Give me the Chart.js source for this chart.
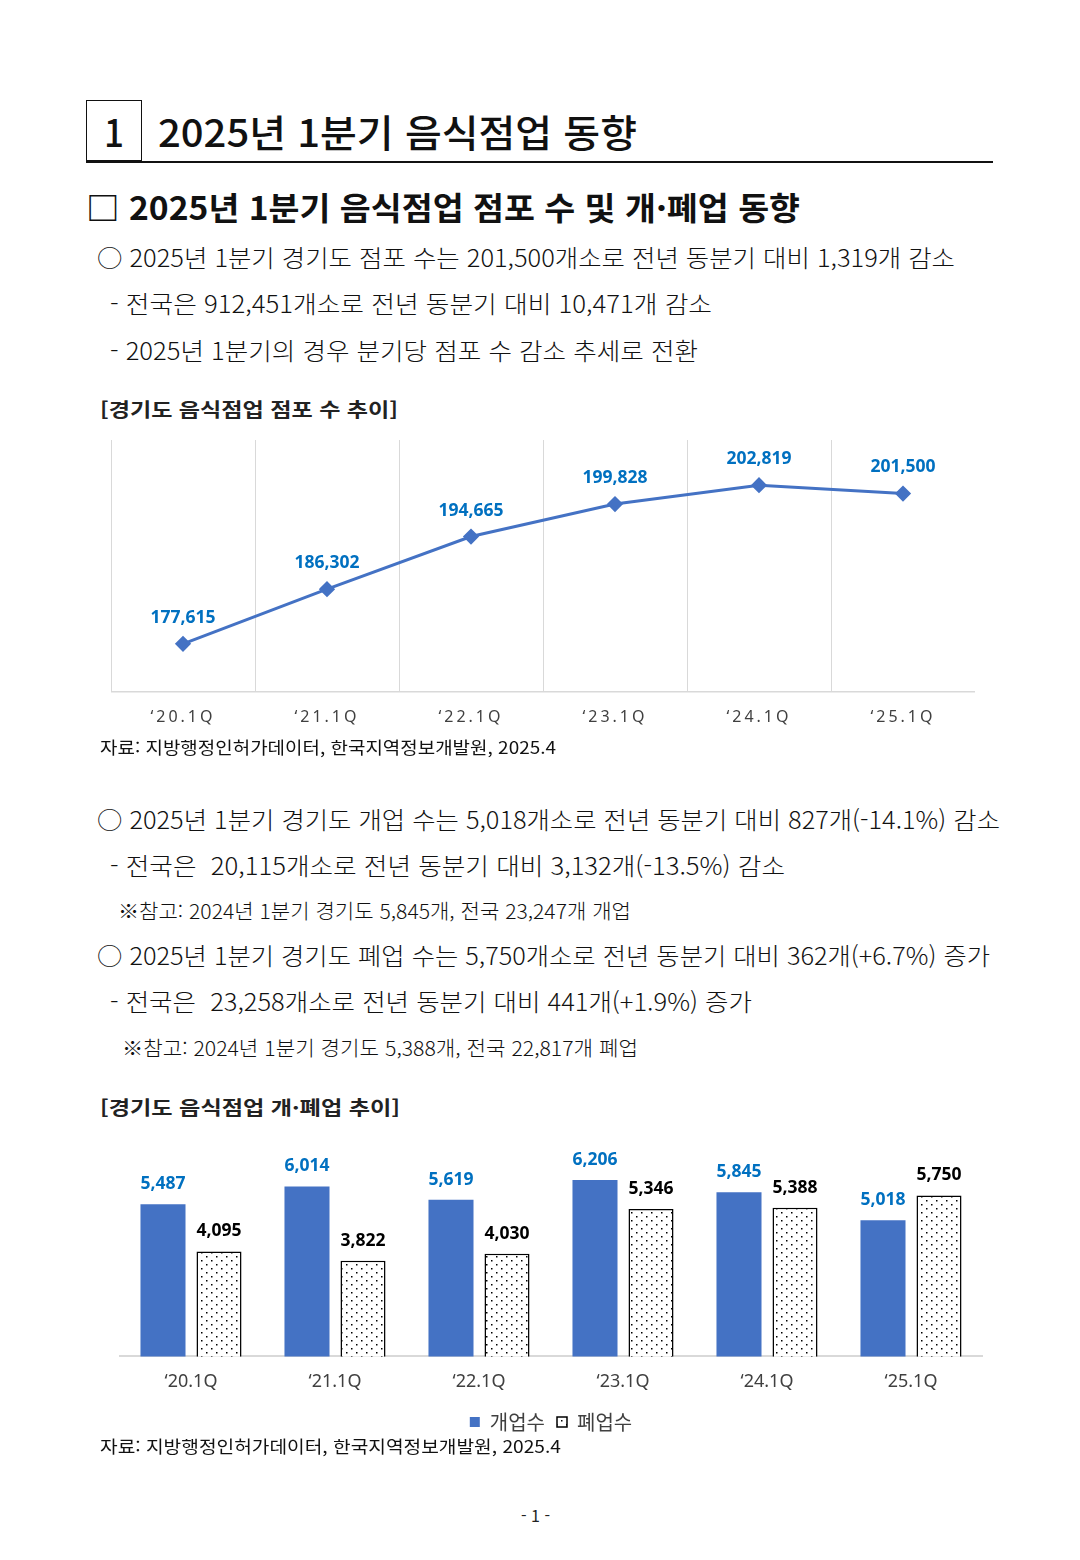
<!DOCTYPE html>
<html lang="ko">
<head>
<meta charset="utf-8">
<title>2025년 1분기 음식점업 동향</title>
<script src="https://cdn.jsdelivr.net/npm/chart.js@4.4.1/dist/chart.umd.min.js"></script>
<style>
  html, body { margin: 0; padding: 0; background: #fff; }
  body { width: 1080px; height: 1560px; position: relative; overflow: hidden;
         font-family: "Noto Sans CJK KR", "Noto Sans", sans-serif; color: #111; }
  .ln { position: absolute; white-space: nowrap; line-height: 1; transform-origin: 0 50%; }
  .body { font-weight: 300; }
  .numbox { position: absolute; left: 86px; top: 100px; width: 56px; height: 61px;
            border: 1.5px solid #111; box-sizing: border-box; }
  .rule { position: absolute; left: 86px; top: 161px; width: 907px; height: 2px; background: #111; }
  .chartbox { position: absolute; }
</style>
</head>
<body>
<div class="numbox"></div>
<div class="rule"></div>
<div class="ln" data-w="20" style="left:104px;top:112px;font-size:38px;font-weight:500">1</div>
<div class="ln" data-w="479" style="left:158px;top:112px;font-size:38px;font-weight:500">2025년 1분기 음식점업 동향</div>
<div class="ln" data-w="714" style="left:86px;top:190px;font-size:32px;font-weight:700">□ 2025년 1분기 음식점업 점포 수 및 개·폐업 동향</div>
<div class="ln body" data-w="858" style="left:97px;top:245px;font-size:24px">○ 2025년 1분기 경기도 점포 수는 201,500개소로 전년 동분기 대비 1,319개 감소</div>
<div class="ln body" data-w="602" style="left:110px;top:291px;font-size:24px">- 전국은 912,451개소로 전년 동분기 대비 10,471개 감소</div>
<div class="ln body" data-w="588" style="left:110px;top:338px;font-size:24px">- 2025년 1분기의 경우 분기당 점포 수 감소 추세로 전환</div>
<div class="ln" data-w="298" style="left:100px;top:399px;font-size:19px;font-weight:700;color:#222">[경기도 음식점업 점포 수 추이]</div>

<div class="chartbox" style="left:111px;top:440px;width:864px;height:303px"><canvas id="storeChart"></canvas></div>

<div class="ln" data-w="456" style="left:100px;top:738px;font-size:17px;color:#111">자료: 지방행정인허가데이터, 한국지역정보개발원, 2025.4</div>

<div class="ln body" data-w="903" style="left:97px;top:807px;font-size:24px">○ 2025년 1분기 경기도 개업 수는 5,018개소로 전년 동분기 대비 827개(-14.1%) 감소</div>
<div class="ln body" data-w="675" style="left:110px;top:853px;font-size:24px">- 전국은&nbsp; 20,115개소로 전년 동분기 대비 3,132개(-13.5%) 감소</div>
<div class="ln body" data-w="513" style="left:118px;top:901px;font-size:20px">※참고: 2024년 1분기 경기도 5,845개, 전국 23,247개 개업</div>
<div class="ln body" data-w="893" style="left:97px;top:943px;font-size:24px">○ 2025년 1분기 경기도 폐업 수는 5,750개소로 전년 동분기 대비 362개(+6.7%) 증가</div>
<div class="ln body" data-w="642" style="left:110px;top:989px;font-size:24px">- 전국은&nbsp; 23,258개소로 전년 동분기 대비 441개(+1.9%) 증가</div>
<div class="ln body" data-w="516" style="left:122px;top:1038px;font-size:20px">※참고: 2024년 1분기 경기도 5,388개, 전국 22,817개 폐업</div>
<div class="ln" data-w="300" style="left:100px;top:1097px;font-size:19px;font-weight:700;color:#222">[경기도 음식점업 개·폐업 추이]</div>

<div class="chartbox" style="left:119px;top:1130px;width:864px;height:320px"><canvas id="flowChart"></canvas></div>

<div class="ln" data-w="461" style="left:100px;top:1437px;font-size:17px;color:#111">자료: 지방행정인허가데이터, 한국지역정보개발원, 2025.4</div>
<div class="ln" style="left:521px;top:1507px;font-size:16px;color:#222">- 1 -</div>

<script>
// 분기 라벨
const quarters = ["‘20.1Q", "‘21.1Q", "‘22.1Q", "‘23.1Q", "‘24.1Q", "‘25.1Q"];

// 경기도 음식점업 점포 수
const storeCounts = [177615, 186302, 194665, 199828, 202819, 201500];

// 개업 / 폐업 수
const seriesNames = ["개업수", "폐업수"];
const openCounts = [5487, 6014, 5619, 6206, 5845, 5018];
const closeCounts = [4095, 3822, 4030, 5346, 5388, 5750];

// fit each text line to its width in the original page
document.querySelectorAll(".ln[data-w]").forEach(el => {
  const w = el.getBoundingClientRect().width;
  const target = +el.dataset.w;
  if (w > 0) el.style.transform = "scaleX(" + (target / w).toFixed(4) + ")";
});

// value labels above points / bars
const valueLabels = {
  id: "valueLabels",
  afterDatasetsDraw(chart, args, opts) {
    const ctx = chart.ctx;
    chart.data.datasets.forEach((ds, i) => {
      const meta = chart.getDatasetMeta(i);
      meta.data.forEach((el, j) => {
        ctx.save();
        ctx.font = opts.font;
        ctx.fillStyle = ds.labelColor;
        ctx.textAlign = "center";
        ctx.textBaseline = "middle";
        ctx.fillText(ds.data[j].toLocaleString("en-US"), el.x, el.y - opts.offset);
        ctx.restore();
      });
    });
  }
};

// wide tick labels on the first chart
const tickSpacing = {
  id: "tickSpacing",
  beforeDraw(chart) { chart.ctx.letterSpacing = "3px"; },
  beforeDatasetsDraw(chart) { chart.ctx.letterSpacing = "0px"; }
};

// pull the legend a little closer to the axis
const legendLift = {
  id: "legendLift",
  afterLayout(chart) {
    if (chart.legend) {
      chart.legend.top -= 8;
      chart.legend.bottom -= 8;
    }
  }
};

new Chart(document.getElementById("storeChart"), {
  type: "line",
  data: {
    labels: quarters,
    datasets: [{
      label: "경기도 점포 수",
      data: storeCounts,
      borderColor: "#4472C4",
      backgroundColor: "#4472C4",
      borderWidth: 3,
      pointStyle: "rectRot",
      pointRadius: 6,
      pointHoverRadius: 6,
      tension: 0,
      clip: false,
      labelColor: "#0070C0"
    }]
  },
  options: {
    responsive: true,
    maintainAspectRatio: false,
    animation: false,
    layout: { padding: 0, autoPadding: false },
    plugins: {
      legend: { display: false },
      tooltip: { enabled: false },
      valueLabels: { font: "bold 17.5px 'Noto Sans', sans-serif", offset: 26 }
    },
    scales: {
      x: {
        offset: true,
        grid: { offset: true, color: "#d9d9d9", drawTicks: false },
        border: { color: "#d9d9d9", width: 1.5 },
        ticks: { color: "#404040", padding: 16, font: { family: "'Noto Sans', sans-serif", size: 16 } }
      },
      y: { display: false, min: 170000, max: 210000 }
    }
  },
  plugins: [valueLabels, tickSpacing]
});

// dotted fill for 폐업수
function dotPattern() {
  const c = document.createElement("canvas");
  c.width = 10; c.height = 8;
  const g = c.getContext("2d");
  g.fillStyle = "#fff";
  g.fillRect(0, 0, 10, 8);
  g.fillStyle = "#000";
  g.fillRect(2, 2, 1.5, 1.5);
  g.fillRect(7, 6, 1.5, 1.5);
  return g.createPattern(c, "repeat");
}

new Chart(document.getElementById("flowChart"), {
  type: "bar",
  data: {
    labels: quarters,
    datasets: [{
      label: seriesNames[0],
      data: openCounts,
      backgroundColor: "#4472C4",
      borderWidth: 0,
      labelColor: "#0070C0"
    }, {
      label: seriesNames[1],
      data: closeCounts,
      backgroundColor: dotPattern(),
      borderColor: "#000",
      borderWidth: 1.5,
      labelColor: "#000"
    }]
  },
  options: {
    responsive: true,
    maintainAspectRatio: false,
    animation: false,
    layout: { padding: { top: 23 }, autoPadding: false },
    datasets: { bar: { categoryPercentage: 0.778, barPercentage: 0.804 } },
    plugins: {
      legend: {
        position: "bottom",
        labels: {
          color: "#404040",
          boxWidth: 10,
          boxHeight: 10,
          padding: 12,
          font: { family: "'Noto Sans CJK KR', sans-serif", size: 20 }
        }
      },
      tooltip: { enabled: false },
      valueLabels: { font: "bold 17.5px 'Noto Sans', sans-serif", offset: 20 }
    },
    scales: {
      x: {
        grid: { display: false, drawTicks: false },
        border: { color: "#d9d9d9", width: 2 },
        ticks: { color: "#404040", padding: 15, font: { family: "'Noto Sans', sans-serif", size: 18 } }
      },
      y: { display: false, min: 1000, max: 7000 }
    }
  },
  plugins: [valueLabels, legendLift]
});
</script>
</body>
</html>
